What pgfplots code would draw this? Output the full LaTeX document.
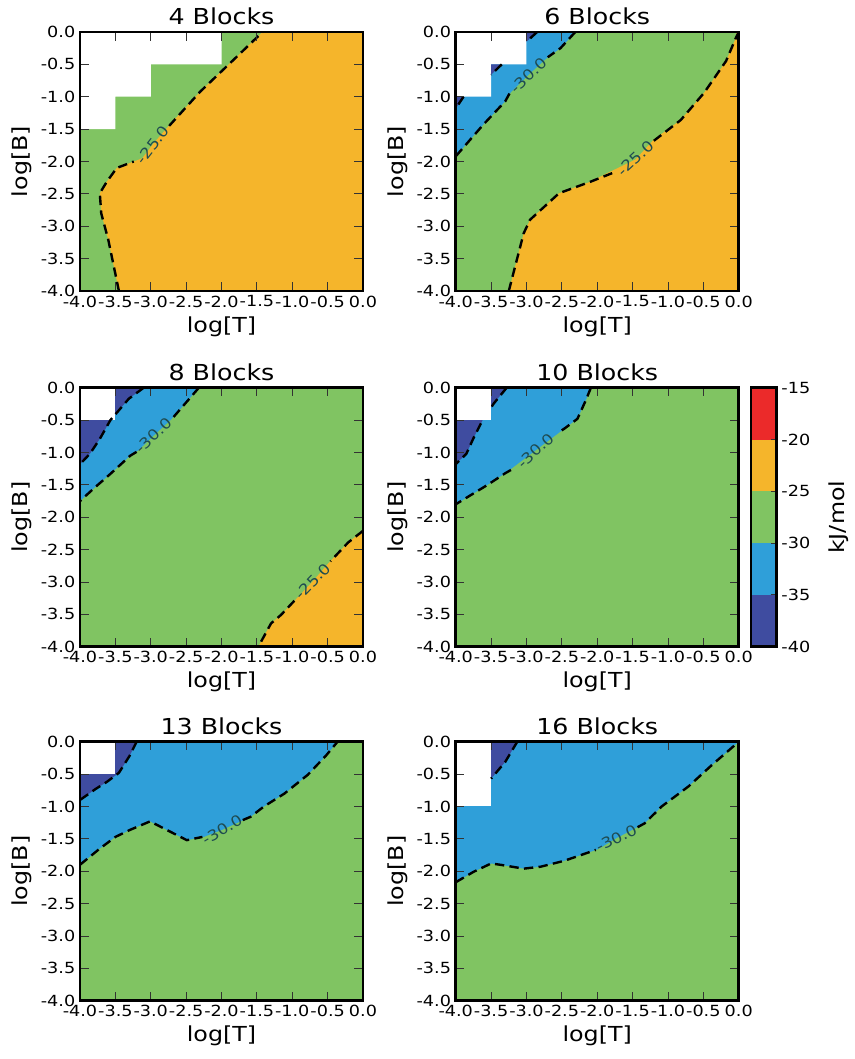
\documentclass[border=0pt]{standalone}
\usepackage{fontspec}
\setmainfont{DejaVu Sans}[FakeStretch=1.15]
\usepackage{pgfplots}
\pgfplotsset{compat=1.18}

\definecolor{cgreen}{RGB}{128,196,98}
\definecolor{corange}{RGB}{245,181,43}
\definecolor{cblue}{RGB}{47,159,217}
\definecolor{cdark}{RGB}{63,76,160}
\definecolor{cred}{RGB}{235,42,42}
\definecolor{clab}{RGB}{30,75,80}

\pgfplotsset{
  panel/.style={
    scale only axis, width=212.25pt, height=194.25pt,
    anchor=north west,
    xmin=-4, xmax=0, ymin=-4, ymax=0,
    xtick={-4,-3.5,-3,-2.5,-2,-1.5,-1,-0.5,0},
    ytick={-4,-3.5,-3,-2.5,-2,-1.5,-1,-0.5,0},
    xticklabels={-4.0,-3.5,-3.0,-2.5,-2.0,-1.5,-1.0,-0.5,0.0},
    yticklabels={-4.0,-3.5,-3.0,-2.5,-2.0,-1.5,-1.0,-0.5,0.0},
    xlabel={log[T]}, ylabel={log[B]},
    axis on top,
    axis line style={line width=2.2pt},
    major tick length=6.5pt,
    every tick/.style={black!80, line width=0.7pt},
    tick label style={font=\fontsize{11.5}{13}\selectfont},
    label style={font=\fontsize{15.5}{18}\selectfont},
    title style={font=\fontsize{16.5}{19}\selectfont, yshift=-4pt},
  },
  contour/.style={black, line width=1.8pt, dash pattern=on 7pt off 4pt},
  area/.style={draw=none, fill=#1},
}
\tikzset{clabel/.style={font=\fontsize{11}{13}\selectfont, text=clab, inner sep=0pt}}

\begin{document}
\begin{tikzpicture}
\useasboundingbox (0,0) rectangle (641.25pt,-794.25pt);

% 4 Blocks
\begin{axis}[panel, at={(60pt,-24pt)}, title={4 Blocks}]
\addplot[area=cgreen] coordinates {(-4,0) (0,0) (0,-4) (-4,-4)} -- cycle;
\addplot[area=white] coordinates {(-4,0) (-2,0) (-2,-0.5) (-3,-0.5) (-3,-1) (-3.5,-1) (-3.5,-1.5) (-4,-1.5)} -- cycle;
\addplot[area=corange] coordinates {(-1.42,0) (0,0) (0,-4) (-3.45,-4) (-3.60,-3.21) (-3.70,-2.80) (-3.72,-2.49) (-3.62,-2.31) (-3.48,-2.10) (-3.12,-1.95) (-2.96,-1.72) (-2.73,-1.43) (-2.30,-0.92) (-1.83,-0.43)} -- cycle;
\addplot[contour] coordinates {(-3.45,-4) (-3.60,-3.21) (-3.70,-2.80) (-3.72,-2.49) (-3.62,-2.31) (-3.48,-2.10) (-3.24,-2.00)};
\addplot[contour] coordinates {(-2.74,-1.45) (-2.30,-0.92) (-1.83,-0.43) (-1.42,0)};
\node[clabel, rotate=52] at (axis cs:-2.97,-1.74) {-25.0};
\end{axis}

% 6 Blocks
\begin{axis}[panel, at={(341.8pt,-24pt)}, title={6 Blocks}]
\addplot[area=cgreen] coordinates {(-4,0) (0,0) (0,-4) (-4,-4)} -- cycle;
\addplot[area=cblue] coordinates {(-4,0) (-2.31,0) (-2.52,-0.25) (-2.72,-0.41) (-2.97,-0.66) (-3.22,-0.93) (-3.30,-1.07) (-3.61,-1.43) (-4,-1.92)} -- cycle;
\addplot[area=white] coordinates {(-4,0) (-3,0) (-3,-0.5) (-3.5,-0.5) (-3.5,-1) (-4,-1)} -- cycle;
\addplot[area=cdark] coordinates {(-3,0) (-2.85,0) (-3,-0.15)} -- cycle;
\addplot[area=cdark] coordinates {(-3.5,-0.5) (-3.35,-0.5) (-3.5,-0.66)} -- cycle;
\addplot[area=cdark] coordinates {(-4,-1) (-3.89,-1) (-4,-1.18)} -- cycle;
\addplot[area=corange] coordinates {(-0.03,0) (0,0) (0,-4) (-3.25,-4) (-3.04,-3.11) (-2.95,-2.90) (-2.54,-2.49) (-2.09,-2.31) (-1.86,-2.18) (-1.46,-1.97) (-1.20,-1.66) (-0.82,-1.36) (-0.49,-0.94) (-0.18,-0.45) (-0.04,-0.09)} -- cycle;
\addplot[contour] coordinates {(-2.85,0) (-3,-0.15)};
\addplot[contour] coordinates {(-3.35,-0.5) (-3.5,-0.66)};
\addplot[contour] coordinates {(-3.89,-1) (-4,-1.18)};
\addplot[contour] coordinates {(-2.31,0) (-2.52,-0.25) (-2.70,-0.39)};
\addplot[contour] coordinates {(-3.24,-0.95) (-3.30,-1.07) (-3.61,-1.43) (-4,-1.92)};
\node[clabel, rotate=43] at (axis cs:-2.97,-0.67) {-30.0};
\addplot[contour] coordinates {(-3.25,-4) (-3.04,-3.11) (-2.95,-2.90) (-2.54,-2.49) (-2.09,-2.31) (-1.72,-2.15)};
\addplot[contour] coordinates {(-1.20,-1.68) (-0.82,-1.36) (-0.49,-0.94) (-0.18,-0.45) (-0.04,-0.09) (0,0)};
\node[clabel, rotate=43] at (axis cs:-1.46,-1.95) {-25.0};
\end{axis}

% 8 Blocks
\begin{axis}[panel, at={(60pt,-290.8pt)}, title={8 Blocks}]
\addplot[area=cgreen] coordinates {(-4,0) (0,0) (0,-4) (-4,-4)} -- cycle;
\addplot[area=cblue] coordinates {(-4,0) (-2.32,0) (-2.51,-0.24) (-2.72,-0.50) (-2.96,-0.74) (-3.18,-0.97) (-3.29,-1.05) (-3.57,-1.33) (-3.81,-1.56) (-4,-1.75)} -- cycle;
\addplot[area=cdark] coordinates {(-4,0) (-3.10,0) (-3.31,-0.17) (-3.57,-0.50) (-3.72,-0.79) (-3.86,-1.02) (-4,-1.18)} -- cycle;
\addplot[area=white] coordinates {(-4,0) (-3.5,0) (-3.5,-0.5) (-4,-0.5)} -- cycle;
\addplot[area=corange] coordinates {(0,-2.21) (0,-4) (-1.48,-4) (-1.30,-3.64) (-1.16,-3.51) (-0.95,-3.27) (-0.71,-2.99) (-0.48,-2.70) (-0.21,-2.39)} -- cycle;
\addplot[contour] coordinates {(-3.10,0) (-3.31,-0.17) (-3.57,-0.50) (-3.72,-0.79) (-3.86,-1.02) (-4,-1.18)};
\addplot[contour] coordinates {(-2.32,0) (-2.51,-0.24) (-2.70,-0.48)};
\addplot[contour] coordinates {(-3.20,-0.99) (-3.29,-1.05) (-3.57,-1.33) (-3.81,-1.56) (-4,-1.75)};
\node[clabel, rotate=43] at (axis cs:-2.96,-0.74) {-30.0};
\addplot[contour] coordinates {(0,-2.21) (-0.21,-2.39) (-0.46,-2.68)};
\addplot[contour] coordinates {(-0.97,-3.29) (-1.16,-3.51) (-1.30,-3.64) (-1.48,-4)};
\node[clabel, rotate=46] at (axis cs:-0.71,-2.99) {-25.0};
\end{axis}

% 10 Blocks
\begin{axis}[panel, at={(341.8pt,-290.8pt)}, title={10 Blocks}]
\addplot[area=cgreen] coordinates {(-4,0) (0,0) (0,-4) (-4,-4)} -- cycle;
\addplot[area=cblue] coordinates {(-4,0) (-2.09,0) (-2.16,-0.19) (-2.28,-0.48) (-2.45,-0.62) (-2.85,-0.95) (-3.30,-1.32) (-3.55,-1.50) (-4,-1.80)} -- cycle;
\addplot[area=cdark] coordinates {(-4,0) (-3.28,0) (-3.46,-0.24) (-3.62,-0.50) (-3.75,-0.78) (-3.85,-1.02) (-4,-1.18)} -- cycle;
\addplot[contour] coordinates {(-3.28,0) (-3.46,-0.24) (-3.62,-0.50) (-3.75,-0.78) (-3.85,-1.02) (-4,-1.18)};
\addplot[area=white] coordinates {(-4,0) (-3.5,0) (-3.5,-0.5) (-4,-0.5)} -- cycle;
\addplot[contour] coordinates {(-2.09,0) (-2.16,-0.19) (-2.28,-0.48) (-2.45,-0.62) (-2.56,-0.70)};
\addplot[contour] coordinates {(-3.22,-1.27) (-3.30,-1.32) (-3.55,-1.50) (-4,-1.80)};
\node[clabel, rotate=42] at (axis cs:-2.87,-0.97) {-30.0};
\end{axis}

% colour bar
\begin{axis}[
  scale only axis, width=19.3pt, height=194.25pt,
  at={(563.25pt,-290.8pt)}, anchor=north west,
  xmin=0, xmax=1, ymin=-40, ymax=-15,
  xtick=\empty,
  ytick={-40,-35,-30,-25,-20,-15},
  yticklabels={-40,-35,-30,-25,-20,-15},
  ytick pos=right, yticklabel pos=right,
  ylabel={kJ/mol},
  ylabel style={at={(axis description cs:3.4,0.5)}, anchor=center},
  axis on top,
  axis line style={line width=2.2pt},
  major tick length=4pt,
  every tick/.style={black!80, line width=0.7pt},
  tick label style={font=\fontsize{11.5}{13}\selectfont},
  label style={font=\fontsize{15.5}{18}\selectfont},
]
\addplot[area=cdark] coordinates {(0,-40) (1,-40) (1,-35) (0,-35)} -- cycle;
\addplot[area=cblue] coordinates {(0,-35) (1,-35) (1,-30) (0,-30)} -- cycle;
\addplot[area=cgreen] coordinates {(0,-30) (1,-30) (1,-25) (0,-25)} -- cycle;
\addplot[area=corange] coordinates {(0,-25) (1,-25) (1,-20) (0,-20)} -- cycle;
\addplot[area=cred] coordinates {(0,-20) (1,-20) (1,-15) (0,-15)} -- cycle;
\end{axis}

% 13 Blocks
\begin{axis}[panel, at={(60pt,-556.3pt)}, title={13 Blocks}]
\addplot[area=cgreen] coordinates {(-4,0) (0,0) (0,-4) (-4,-4)} -- cycle;
\addplot[area=cblue] coordinates {(-4,0) (-0.36,0) (-0.52,-0.21) (-0.78,-0.51) (-1.11,-0.80) (-1.40,-1.00) (-1.59,-1.16) (-1.99,-1.36) (-2.25,-1.47) (-2.49,-1.52) (-3.01,-1.23) (-3.29,-1.36) (-3.50,-1.47) (-3.72,-1.65) (-4,-1.90)} -- cycle;
\addplot[area=cdark] coordinates {(-4,0) (-3.20,0) (-3.30,-0.22) (-3.45,-0.48) (-3.62,-0.62) (-3.78,-0.73) (-4,-0.90)} -- cycle;
\addplot[area=white] coordinates {(-4,0) (-3.5,0) (-3.5,-0.5) (-4,-0.5)} -- cycle;
\addplot[contour] coordinates {(-3.20,0) (-3.30,-0.22) (-3.45,-0.48) (-3.62,-0.62) (-3.78,-0.73) (-4,-0.90)};
\addplot[contour] coordinates {(-4,-1.90) (-3.72,-1.65) (-3.50,-1.47) (-3.29,-1.36) (-3.01,-1.23) (-2.49,-1.52) (-2.27,-1.47)};
\addplot[contour] coordinates {(-1.70,-1.21) (-1.59,-1.16) (-1.40,-1.00) (-1.11,-0.80) (-0.78,-0.51) (-0.52,-0.21) (-0.36,0)};
\node[clabel, rotate=30] at (axis cs:-1.99,-1.36) {-30.0};
\end{axis}

% 16 Blocks
\begin{axis}[panel, at={(341.8pt,-556.3pt)}, title={16 Blocks}]
\addplot[area=cgreen] coordinates {(-4,0) (0,0) (0,-4) (-4,-4)} -- cycle;
\addplot[area=cblue] coordinates {(-4,0) (0,0) (-0.38,-0.36) (-0.71,-0.69) (-1.09,-1.00) (-1.33,-1.26) (-1.73,-1.49) (-1.99,-1.66) (-2.23,-1.75) (-2.47,-1.84) (-2.80,-1.93) (-3.04,-1.96) (-3.37,-1.90) (-3.50,-1.88) (-3.75,-2.01) (-4,-2.17)} -- cycle;
\addplot[area=cdark] coordinates {(-3.5,0) (-3.13,0) (-3.30,-0.31) (-3.5,-0.57)} -- cycle;
\addplot[area=white] coordinates {(-4,0) (-3.5,0) (-3.5,-1) (-4,-1)} -- cycle;
\addplot[contour] coordinates {(-3.13,0) (-3.30,-0.31) (-3.5,-0.57)};
\addplot[contour] coordinates {(-4,-2.17) (-3.75,-2.01) (-3.50,-1.88) (-3.37,-1.90) (-3.04,-1.96) (-2.80,-1.93) (-2.47,-1.84) (-2.23,-1.75) (-2.02,-1.67)};
\addplot[contour] coordinates {(-1.43,-1.32) (-1.33,-1.26) (-1.09,-1.00) (-0.71,-0.69) (-0.38,-0.36) (0,0)};
\node[clabel, rotate=26] at (axis cs:-1.73,-1.49) {-30.0};
\end{axis}

\end{tikzpicture}
\end{document}
